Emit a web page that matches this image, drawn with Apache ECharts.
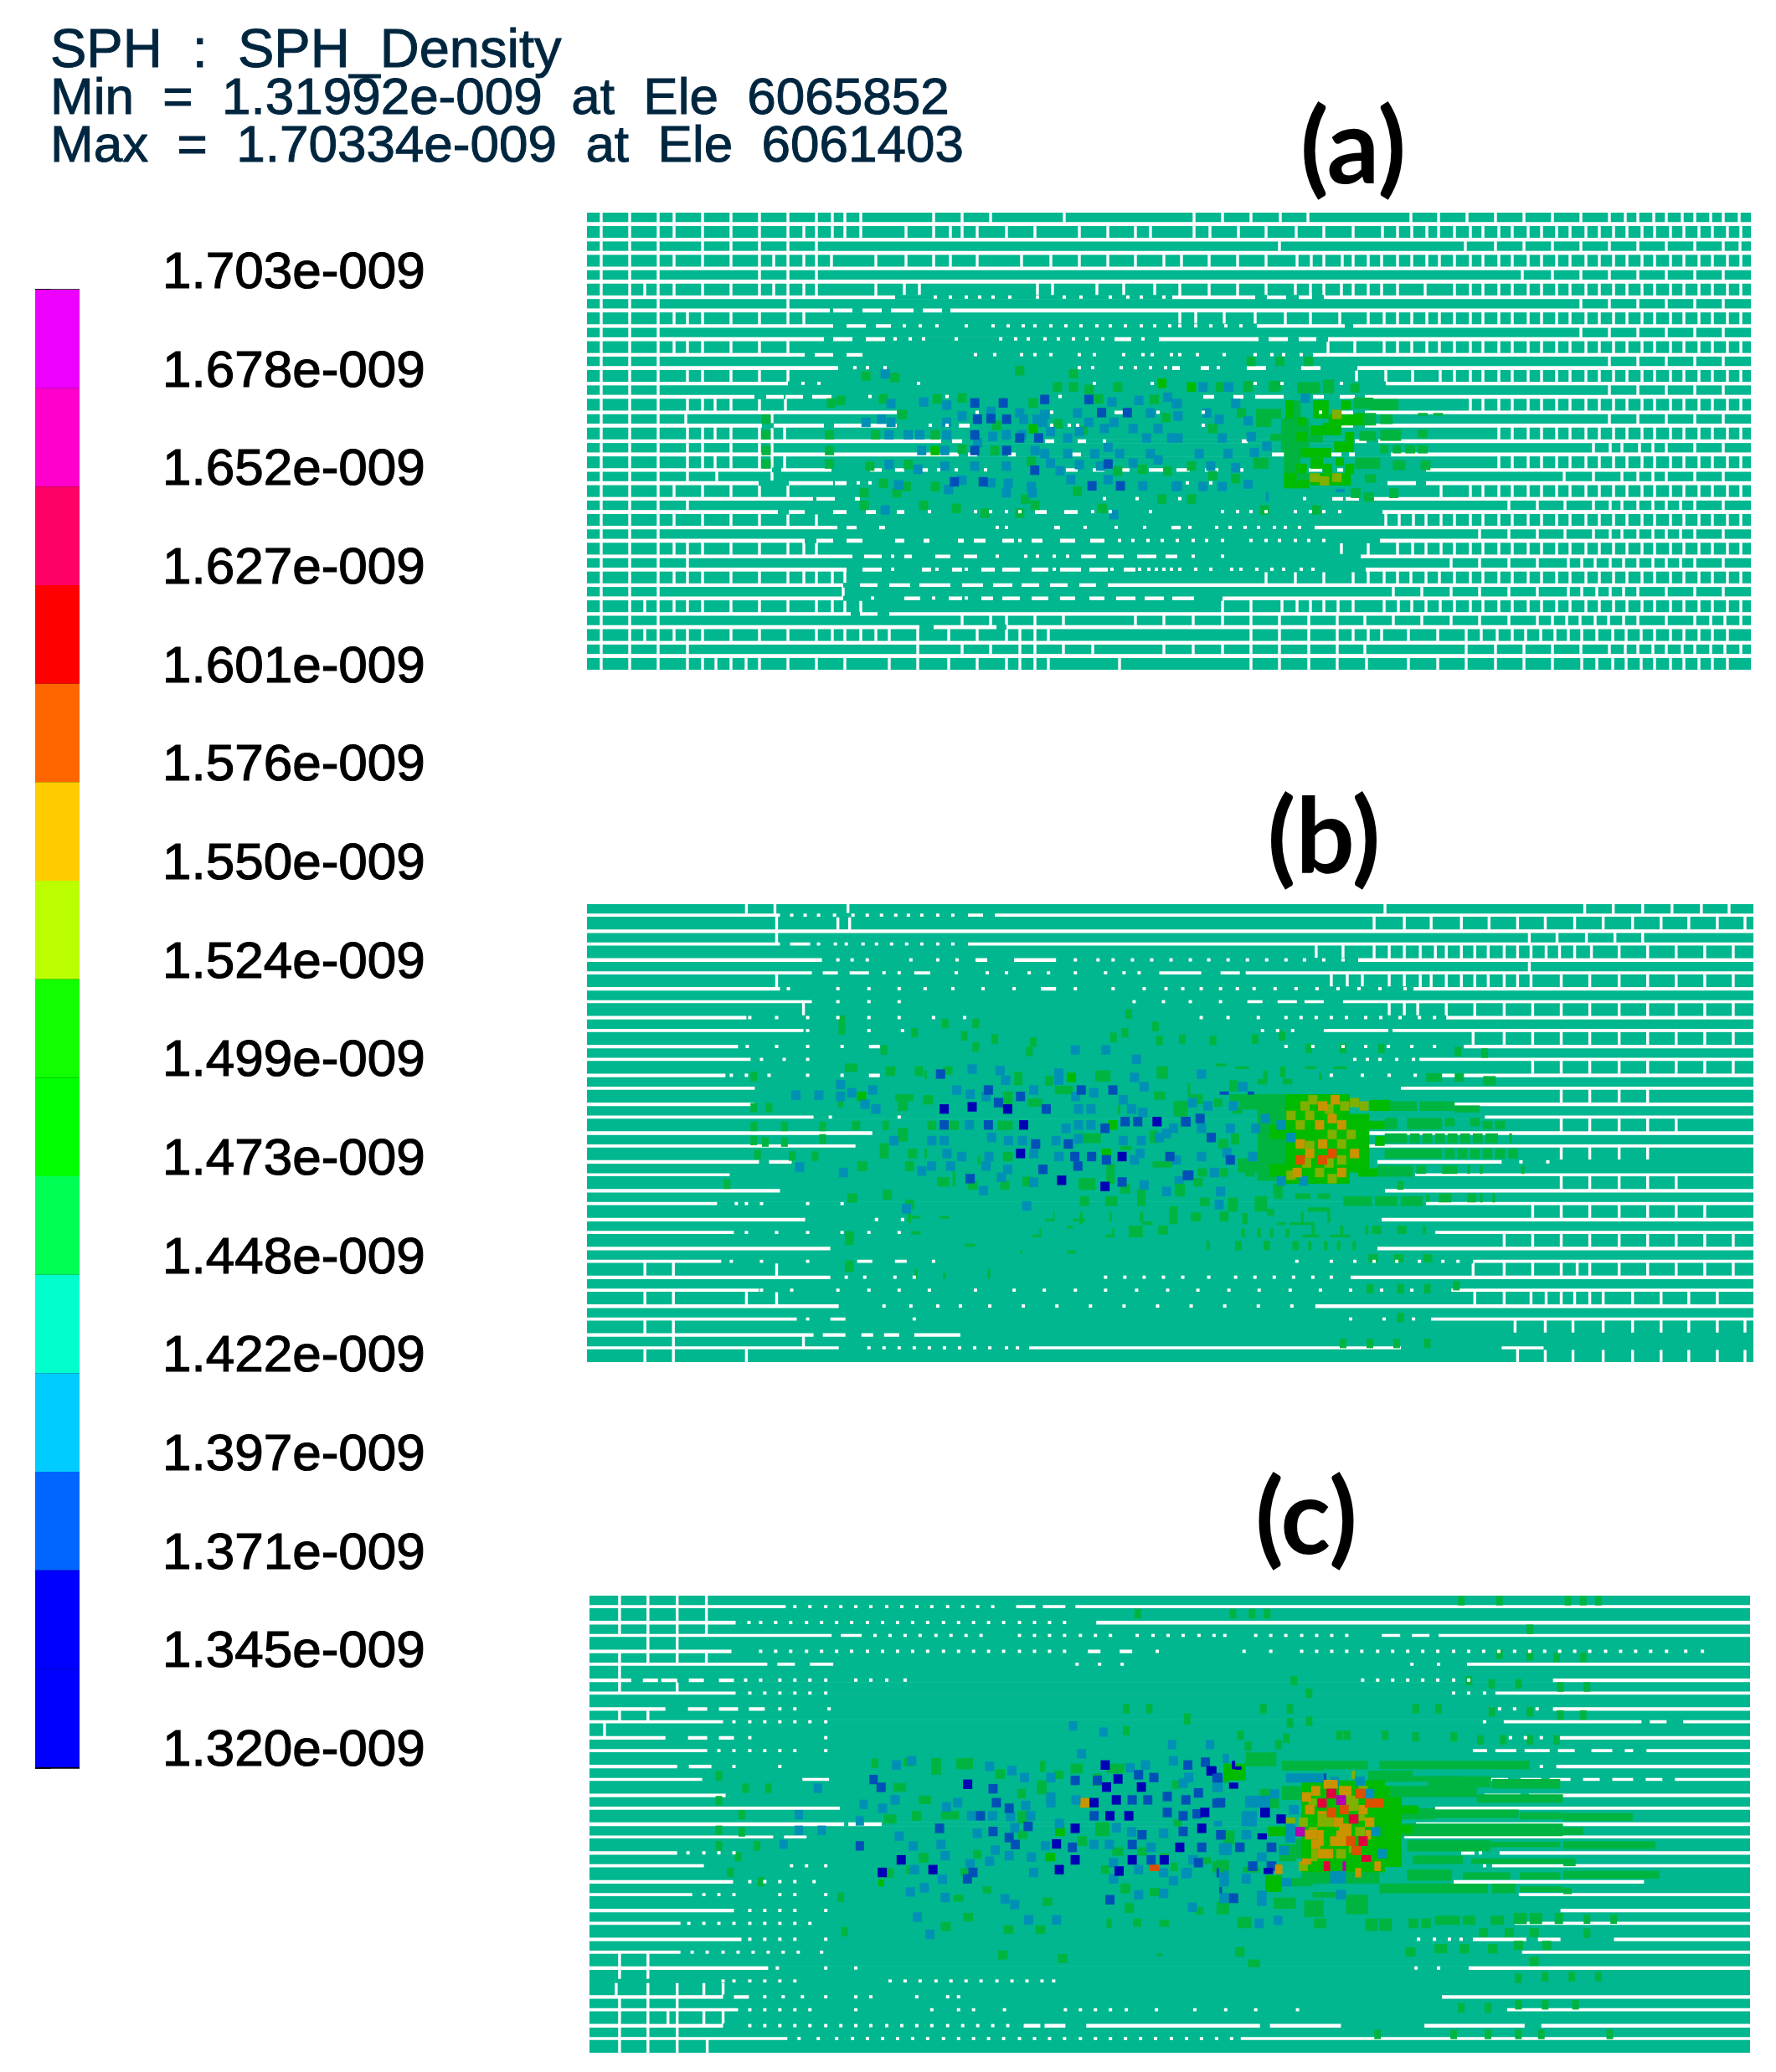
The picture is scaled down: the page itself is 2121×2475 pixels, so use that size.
<!DOCTYPE html>
<html>
<head>
<meta charset="utf-8">
<style>html,body{margin:0;background:#fff}#chart{width:2121px;height:2475px}</style>
<script src="https://cdn.jsdelivr.net/npm/echarts@6/dist/echarts.min.js"></script>
</head>
<body>
<div id="chart"></div>
<script>
// legend, top to bottom
const tickLabels = ['1.703e-009','1.678e-009','1.652e-009','1.627e-009','1.601e-009','1.576e-009','1.550e-009','1.524e-009','1.499e-009','1.473e-009','1.448e-009','1.422e-009','1.397e-009','1.371e-009','1.345e-009','1.320e-009'];
const bandColors = ['#ee00ff','#ff00cc','#ff0066','#ff0000','#ff6600','#ffcc00','#bbff00','#11ff00','#00ff00','#00ff55','#00ffcc','#00ccff','#0066ff','#0000ff','#0000ff'];
const headerLines = ['SPH  :  SPH_Density','Min  =  1.31992e-009  at  Ele  6065852','Max  =  1.70334e-009  at  Ele  6061403'];

// density classes shown on the particles (index used in the spot lists)
const palette = ['#00b78f','#00b440','#00bb00','#80b000','#c89400','#dd5000','#e0003c','#b400b0','#0090b5','#0050b8','#0000b4','#ffffff'];

const rightOddA = [1036,1055,1070,1089,1105,1124,1140,1158,1174,1193,1209,1226,1242,1260,1275,1294,1310,1328,1344,1362,1378];
const rightEvenA = [1187,1221,1255,1289,1323,1357];

// panel a: white vertical joints per particle row
const gapsA = [
  [17,51,85,104,138,172,206,240,274,293,308,327,414,448,482,570,725,759,793,828,861,984,1017,1051,1085,1119,1153,1187,1221,1240,1255,1274,1289,1308,1323,1342,1357,1376],
  [17,51,85,104,138,172,206,240,259,274,293,308,327,381,414,434,448,466,501,535,588,622,655,673,725,744,778,811,847,880,915,950,968,985,1003,1017,...rightOddA],
  [17,51,85,138,172,206,240,274,827,1049,1085,1119,1153,...rightEvenA,1377],
  [17,51,85,104,138,172,206,223,240,259,274,292,345,381,414,434,466,519,554,588,622,655,689,710,743,777,811,848,865,880,902,915,933,949,968,985,1003,1018,...rightOddA],
  [17,51,85,206,240,274,1117,1153,...rightEvenA],
  [17,51,69,85,104,138,172,206,223,240,259,274,345,379,397,538,556,609,641,678,708,743,777,811,846,864,880,901,915,933,949,968,1001,...rightOddA],
  [17,51,85,240,...rightEvenA],
  [17,51,85,104,120,138,172,206,240,259,708,727,761,798,834,864,899,933,952,968,985,1003,1018,...rightOddA],
  [17,51,85,...rightEvenA],
  [17,51,85,104,120,138,172,206,240,885,917,952,968,985,1003,1018,...rightOddA],
  [17,51,85,1221,1255,1289,1323,1357],
  [17,51,85,120,138,172,206,240,919,954,986,1019,...rightOddA],
  [17,51,85,1221,1255,1289,1323,1357],
  [17,51,85,120,138,153,172,206,237,...rightOddA.slice(1)],
  [17,51,85,118,221,1221,1255,1289,1323,1357],
  [17,51,85,120,138,153,172,206,221,236,...rightOddA.slice(3)],
  [17,51,85,120,138,172,206,221,1202,1222,1236,1257,1273,1289,1323,1357],
  [17,51,85,120,138,153,172,206,221,236,...rightOddA.slice(3)],
  [17,51,85,120,155,221,1167,1202,1236,1255,1273,1289,1323,1357],
  [17,51,85,104,138,172,206,240,1020,...rightOddA.slice(1)],
  [17,51,85,120,1101,1135,1168,1202,1222,1236,1255,1273,1289,1306,1323,1357],
  [17,51,85,104,138,172,206,240,274,954,970,987,1002,1020,...rightOddA],
  [17,51,85,1066,1101,1135,1168,1202,1222,1236,1255,1273,1289,1306,1323,1357],
  [17,51,85,104,120,138,172,206,240,259,274,901,933,968,986,1002,1020,...rightOddA],
  [17,51,85,120,1032,1066,1101,1135,1172,1188,1204,1222,1238,1255,1273,1289,1306,1323,1357],
  [17,51,85,104,120,138,172,206,240,259,274,293,308,811,846,880,915,933,952,968,984,1002,1018,...rightOddA],
  [17,51,85,306,963,997,1032,1066,1101,1135,1172,1188,1206,1222,1238,1255,1289,1323,1357],
  [17,51,69,85,104,120,138,172,206,240,274,293,308,327,759,793,830,848,864,880,897,915,952,969,985,1002,1019,...rightOddA],
  [17,51,85,448,482,501,535,569,655,689,724,759,793,827,862,896,929,963,997,1032,1066,1101,1135,1153,1170,1186,1204,1220,1238,1255,1289,1323,1342,1359,1378],
  [17,51,69,85,104,120,138,172,206,240,274,293,308,327,345,361,395,432,466,501,517,535,551,793,827,862,896,915,933,949,981,1016,1050,1068,1087,1105,1121,1139,1156,1172,1188,1206,1225,1241,1259,1275,1294,1310,1328,1344,1362],
  [17,51,85,120,395,448,482,517,535,569,604,689,724,759,793,827,862,896,929,1050,1085,1119,1153,1187,1221,1240,1255,1273,1289,1308,1323,1342,1359,1378],
  [17,51,85,120,138,154,172,190,206,240,274,308,361,395,432,466,501,517,535,551,636,793,827,862,896,931,981,1016,1050,1085,1119,1153,1188,1206,1225,1241,1259,1275,1294,1310,1328,1344,1362]
];

// panel a: white between rows, [from,to] is a run and a single number a small hole
const slitsA = [
  [[0,1390]],[[0,1390]],[[0,1390]],[[0,1390]],[[0,1390]],
  [[0,368],416,434,453,469,485,505,538,570,590,625,646,662,689,[699,798],[812,835],[850,866],[880,1390]],
  [[0,290],[294,317],[329,352],[363,390],[401,424],[434,1390]],
  [[0,294],[310,333],[345,363],379,398,418,453,485,503,521,535,554,572,590,609,625,643,662,678,696,708,727,745,763,781,[800,905],[915,1390]],
  [[0,283],[294,317],[333,356],368,386,402,441,494,512,527,547,563,581,597,616,[630,650],664,[683,802],[814,837],[850,871],[885,1390]],
  [[0,260],[272,294],[310,329],464,487,519,535,554,588,606,641,664,675,698,708,729,761,798,818,832,853,[867,1390]],
  [[0,300],320,335,356,588,604,638,655,673,691,[699,708],[733,743],754,[788,811],[853,876],[920,1390]],
  [[0,240],258,277,396,606,675,798,830,901,[954,1390]],
  [[0,200],[214,235],[237,258],[269,292],338,430,565,[736,749],[772,784],[798,832],[867,880],[899,917],[929,970],[970,1390]],
  [[0,370],466,555,[630,641],682,736,876,[901,915],[929,1390]],
  [[0,209],[223,283],[295,370],410,430,[444,457],555,576,586,736,[901,915],[929,1390]],
  [[0,423],[436,448],[547,558],[586,596],618,[782,789],[917,931],[945,1390]],
  [[0,444],[455,466],[503,512],[579,590],[818,833],[889,901],[910,917],[960,1390]],
  [[0,221],[232,292],[338,352],[368,379],[393,407],420,441,476,[572,586],[604,618],[639,648],[671,689],[704,720],[738,754],[772,784],[862,878],[896,903],[1002,1390]],
  [[0,205],[241,294],[296,310],324,338,717,745,[956,990],[1002,1390]],
  [[0,270],[274,296],[320,326],618,657,708,857,[890,903],[906,922],[940,1390]],
  [[0,228],[241,260],[294,310],[333,345],[370,379],409,464,482,501,517,[535,549],[570,586],604,625,673,759,777,793,811,846,864,880,899,[950,1390]],
  [[0,299],[310,322],[349,356],490,501,[558,565],595,632,666,[698,709],720,752,768,786,802,821,834,851,[869,1390]],
  [[0,260],[274,294],[310,329],[368,379],[402,409],[443,450],[462,476],[496,510],517,[531,544],[565,583],[601,618],636,652,670,687,705,724,740,759,793,811,827,846,862,880,[947,1390]],
  [[0,317],[331,352],365,[379,388],[416,434],[450,466],490,524,538,558,574,[590,608],[622,641],[657,680],[691,705],724,759,[924,1390]],
  [[0,310],[329,352],365,[400,411],418,[436,448],453,[471,487],[496,517],[531,551],558,[565,590],[600,622],627,[641,655],660,671,680,689,698,708,727,745,770,781,800,818,832,853,867,[930,1390]],
  [[0,306],[326,347],[361,386],[397,434],[448,473],[485,508],[519,540],[553,574],[588,608],[622,1390]],
  [[0,306],341,[379,398],414,[432,448],453,[471,485],[496,517],[531,551],[565,583],[600,618],[632,655],[666,689],[699,725],[759,1390]],
  [[0,315],[326,347],[361,1390]],
  [[0,397],[414,489],[501,1390]],
  [[0,1390]],[[0,1390]]
];

// panel a spots, [x, y]
const aLeftLight = [[815,650],[900,645],[960,655],[750,710],[790,700],[815,710],[960,710],[1000,690],[1075,675],[1150,680],[1215,685],[1160,700],[1195,700],[1210,710],[1300,680],[1330,710],[1395,710],[1490,680],[1560,650],[1535,630],[1390,645],[1460,640],[810,750],[860,750],[890,750],[960,750],[1080,755],[1115,750],[1155,750],[1230,740],[1275,760],[1305,740],[1370,730],[1445,730],[1510,730],[1480,760],[1545,760],[895,800],[955,800],[1040,775],[1190,800],[1215,810],[1275,810],[1345,810],[1380,790],[1410,810],[1490,810],[1510,830],[810,845],[885,860],[955,850],[1033,850],[1115,850],[1230,840],[1255,865],[1305,845],[1360,850],[1445,840],[835,910],[1000,895],[1075,903],[1120,905],[1180,915],[1283,893],[1380,893],[1470,913],[1560,913],[965,925],[1115,935],[1183,935],[800,990],[1395,1005],[800,555]];
const aLeftBlue = [[1033,648],[1107,648],[1215,637],[1330,637],[1363,679],[1430,679],[1040,700],[1075,698],[1116,700],[1033,750],[1199,760],[1150,760],[1033,800],[1116,800],[1380,843],[1189,863],[1338,913],[1412,913],[980,900],[1055,900]];
const aLeftGreen = [[750,562],[825,567],[1150,545],[1290,555],[1248,597],[1290,597],[1330,605],[1405,597],[660,648],[685,640],[795,635],[935,635],[1000,632],[1185,648],[1355,635],[1500,637],[845,685],[1090,720],[1250,715],[1315,735],[1530,695],[490,700],[490,750],[490,800],[490,843],[655,750],[655,800],[655,843],[775,750],[760,850],[860,845],[930,750],[1085,800],[1000,795],[1180,835],[1405,865],[1470,860],[1535,865],[795,905],[855,915],[930,915],[745,935],[830,935],[1300,930],[1520,955],[745,975],[900,975],[985,985],[1165,955],[1365,985],[1190,975],[1150,1000],[1060,1000]];
const aLeftBright = [[1520,585],[1185,730],[930,800]];
const aRightLight = [[10,650],[15,690],[15,760],[90,680],[122,700],[165,650],[130,760],[70,810],[145,810],[165,855],[100,850],[10,915],[80,915],[130,915],[80,597],[147,597]];
const aRightGreen = [[205,515],[280,515],[355,515],[125,597],[197,597],[265,597],[340,597],[370,597],[405,597],[475,600],[105,730],[180,680],[50,850],[105,880],[165,890],[50,955],[240,990],[375,990]];
const aRightBright = [[50,597]];
// hot area of panel a, [x0, y0, x1, y1, class] on the 3x crop
const aHot = [[165,115,220,180,1],[150,180,250,300,1],[160,300,220,375,1],[265,115,320,150,1],[250,240,300,265,1],[300,40,340,90,1],[208,50,290,90,1],[105,45,150,80,1],[15,45,48,80,1],[60,145,150,180,1],[60,170,115,210,1],[110,235,150,260,1],[50,320,105,360,1],[470,110,570,150,1],[445,160,490,205,1],[410,105,480,145,1],[430,225,490,260,1],[505,165,550,200,1],[505,220,580,260,1],[640,220,675,250,1],[505,275,535,305,1],[550,275,580,305,1],[595,275,630,305,1],[640,275,675,305,1],[415,320,505,360,1],[550,330,595,365,1],[650,330,685,365,1],[450,380,490,410,1],[400,430,435,465,1],[445,445,480,478,1],[537,430,570,465,1],[165,375,250,430,1],[640,160,675,170,1],[695,160,730,170,1],
  [165,115,195,180,2],[265,115,320,180,2],[320,165,445,205,2],[255,205,300,240,2],[300,195,365,240,2],[378,228,412,262,2],[205,228,242,262,2],[340,262,410,300,2],[220,285,330,320,2],[255,320,300,360,2],[345,320,375,350,2],[378,342,412,378,2],[205,342,242,375,2],[160,375,205,430,2],[205,400,250,430,2],[300,342,333,378,2],[365,115,400,148,2],[415,160,445,190,2],[255,375,400,420,2],[210,175,240,205,2],
  [220,90,253,124,8],[15,172,48,205,8],[26,228,60,262,8],[82,262,116,296,8],[37,285,71,318,8],[15,400,48,432,8],[345,432,378,444,8],[95,445,105,478,8],
  [333,148,367,182,3],[253,376,288,408,3],[288,387,322,420,3],[333,376,367,408,3]];

// panel b
const gapsB = [
  [190,224,311,951,1189,1223,1258,1293,1328,1361],
  [226,299,313,938,974,1006,1042,1075,1109,1142,1177,1211,1246,1280,1313,1347,1380],
  [226,1123,1156,1191,1225,1258],
  [869,901,938,956,974,993,1011,1024,1042,1058,1074,1093,1109,1125,1143,1159,1177,1197,1230,1264,1298,1332,1366],
  [1123],
  [226,887,906,924,956,974,993,1006,1024,1042,1058,1074,1093,1109,1125,1161,1195,1230,1264,1298,1332,1366],
  [],
  [258,956,974,990,1024,1058,1093,1127,1161,1195,1230,1264,1298,1332,1366],
  [],
  [1056,1093,1127,1161,1195,1230,1264,1298,1332,1366],
  [],
  [1127,1161,1195,1230,1264,1298,1332,1366],
  [],
  [1161,1195,1230,1264],
  [],
  [1161,1195,1230,1264,1298],
  [],
  [1161,1195,1230,1264],
  [],
  [1161,1195,1230,1264,1298],
  [],
  [1127,1161,1195,1230,1264,1298,1332],
  [],
  [1093,1127,1161,1195,1230,1264,1298,1332,1366],
  [],
  [69,103,226,1056,1093,1127,1161,1180,1195,1230,1264,1298,1332,1366],
  [],
  [69,103,190,226,1058,1093,1125,1143,1161,1177,1195,1211,1246,1280,1313,1347],
  [],
  [69,103,1106,1142,1175,1211,1246,1280,1313,1347,1380],
  [103,258],
  [69,103,190,1109,1142,1175,1211,1246,1280,1313,1347,1380]
];
const slitsB = [
  [[0,230],244,260,276,295,317,334,351,368,383,399,418,436,[454,472],[486,1390]],
  [[0,1390]],
  [[0,230],[242,266],276,296,309,329,345,363,381,399,418,436,[454,1390]],
  [[0,280],299,316,334,386,418,441,[463,477],[509,559],582,609,627,650,673,696,719,741,764,787,810,833,855,878,901,[919,1390]],
  [[0,268],[281,299],[313,336],354,372,[390,409],440,477,500,527,550,582,618,640,658,[682,732],[755,778],[785,1390]],
  [[0,230],240,299,336,372,403,436,472,509,[541,559],582,627,664,690,710,732,755,775,795,820,845,870,895,920,945,975,[985,1390]],
  [[0,268],299,336,372,652,687,719,755,[787,805],[823,846],[855,878],[901,1390]],
  [[0,190],194,226,263,299,336,372,413,450,732,764,800,833,851,869,887,905,928,946,969,992,1010,[1024,1390]],
  [[0,258],263,336,376,805,823,841,[878,955],[960,1390]],
  [[0,180],191,226,263,304,[336,349],833,865,901,928,955,983,1010,[1045,1390]],
  [[0,195],208,235,263,915,930,945,965,985,[992,1390]],
  [[0,165],172,190,217,263,304,[336,349],887,924,956,987,[1010,1390]],
  [[0,200],[970,1390]],
  [[0,200],[1033,1390]],
  [[0,270],290,372,[1070,1390]],
  [[0,340],[921,1390]],
  [[0,320],[928,1390]],
  [[0,205],[217,244],[942,1090],1113,1145],
  [[0,170],[987,1390]],
  [[0,230],[951,1390]],
  [[0,155],178,190,208,263,304,[1000,1390]],
  [[0,260],345,376,[947,1390]],
  [[0,175],190,226,263,304,336,372,[1011,1390]],
  [[0,290],[942,1390]],
  [[0,160],172,208,263,[322,340],[367,381],413,846,887,915,938,965,992,1020,1038,[1056,1390]],
  [[0,290],309,331,367,390,618,641,664,687,710,741,773,796,819,842,865,887,[910,1390]],
  [[0,205],208,244,299,336,372,408,463,509,545,582,618,655,692,728,765,801,838,874,910,947,983,[1030,1390]],
  [[0,300],354,386,418,445,480,520,560,600,640,680,720,760,800,840,[868,1390]],
  [[0,250],263,[290,308],390,910,950,985,[1006,1390]],
  [[0,270],[281,308],[327,341],[354,372],[390,445]],
  [[0,300],336,354,372,390,408,426,444,462,480,500,513,[527,970],[1090,1140]]
];
// outside the 3x crops, read on the wide crop
const bWideLight = [[285,640],[315,640],[290,870],[650,495],[690,495],[730,525]];
const bWideGreen = [[230,580],[230,680],[250,680],[230,740],[270,740],[320,740],[230,785],[245,790],[270,790],[320,780],[235,830],[280,835],[310,835],[195,925],[590,500],[1150,500],[1185,505],[1035,1260],[1075,1260],[1110,1260],[1148,1250],[1075,1352],[1000,1435],[1035,1435],[1070,1435],[1110,1435],[345,400],[480,410],[520,410],[440,440],[505,450],[545,460],[595,470],[715,440],[755,420],[790,460],[345,430],[400,495],[520,485],[720,380],[700,455],[760,465],[830,465],[885,460],[920,450],[955,490],[1000,490],[1050,490]];
// b, hot side, on the 3x crop
const bHot = [[300,110,400,420,1],[775,135,870,170,1],[880,135,1005,170,1],[1005,150,1095,175,1],[755,195,800,235,1],[835,195,960,235,1],[970,195,1005,225,1],[1060,195,1095,225,1],[1105,205,1140,235,1],[1150,205,1185,235,1],[755,250,835,285,1],[845,250,880,285,1],[890,250,925,285,1],[935,250,970,285,1],[980,250,1015,285,1],[1025,250,1060,285,1],[1070,250,1105,285,1],[1115,250,1160,285,1],[1200,250,1210,285,1],[755,305,960,340,1],[970,305,1005,340,1],[1015,305,1050,340,1],[1060,305,1095,340,1],[1105,305,1140,340,1],[1150,305,1185,340,1],[1197,305,1232,340,1],[730,365,855,405,1],[868,365,903,395,1],[960,365,1015,395,1],[1050,365,1060,395,1],[1095,365,1105,395,1],[1243,365,1255,395,1],[607,475,710,510,1],[720,475,800,510,1],[812,475,890,510,1],[903,470,915,495,1],[948,465,993,497,1],[1050,465,1083,497,1],[1095,465,1105,497,1],[1140,465,1150,497,1],[903,35,960,65,1],[1005,35,1038,65,1],[1107,45,1152,78,1],[800,420,822,452,1],[710,580,743,610,1],[800,580,833,610,1],[890,580,903,610,1],[697,682,730,712,1],[788,682,822,712,1],[892,682,925,712,1],[118,635,130,668,1],[220,635,243,668,1],[322,635,345,668,1],[425,635,447,668,1],[482,635,493,668,1],[538,635,550,668,1],[584,635,596,668,1],[640,635,652,668,1],[243,590,255,622,1],[300,590,312,622,1],[345,590,357,622,1],[402,590,414,622,1],[493,580,505,615,1],[595,580,607,612,1],[685,580,697,612,1],[460,612,520,622,1],[560,612,630,622,1],[145,125,175,155,1],[200,60,230,100,1],[300,55,335,75,1],[390,55,425,75,1],[220,10,270,20,1],[150,0,190,10,1],[320,25,335,70,1],[380,10,400,50,1],[520,35,530,60,1],[470,10,510,20,1],[570,10,620,20,1],[60,110,105,145,1],[0,135,45,185,1],[200,110,345,135,1],[235,135,310,165,1],[310,135,400,175,1],[210,155,245,180,1],[160,270,195,305,1],[165,375,195,405,1],[255,375,290,405,1],[85,375,120,405,1],[70,410,105,440,1],[310,240,345,300,1],[230,340,345,390,1],[355,430,390,465,1],[205,250,235,290,1],[5,430,40,475,1],[95,480,130,510,1],[195,480,230,530,1],[290,475,335,530,1],[62,533,97,565,1],[165,530,197,565,1],[435,465,490,485,1],[515,465,560,485,1],[360,465,390,485,1],[455,530,465,570,1],[245,535,265,575,1],[335,520,360,545,1],[480,515,560,530,1],[550,530,560,570,1],[370,568,400,578,1],[415,568,505,578,1],
  [400,110,630,430,2],[630,180,700,390,2],[345,220,400,270,2],[345,360,400,405,2],[700,130,775,170,2],[700,205,755,235,2],[660,375,730,405,2],[720,260,755,295,2],
  [165,100,198,112,9],[265,100,288,112,9]];
const bHotLight = [[100,38],[248,83],[67,140],[123,152],[214,152],[328,197],[385,220],[100,232],[203,232],[294,232],[100,333],[191,320],[283,333],[420,265],[146,390],[168,458],[163,505],[385,420],[465,420]];
const bHotBlue = [[45,208],[95,197],[135,265],[203,345],[55,400]];
const bAmber = [[578,130],[533,152],[567,197],[522,220],[601,220],[453,288],[533,288],[487,322],[442,390],[601,390],[647,322]];
const bOlive = [[498,130],[470,152],[647,140],[681,152],[612,152],[556,163],[420,186],[487,186],[453,220],[567,254],[635,254],[487,294],[601,288],[601,345],[476,356],[556,356],[420,400],[522,390],[567,412]];
const bOrange = [[453,345],[533,345],[567,322]];
// b, middle, on the 3x crop
const bMidDark = [[380,163],[607,163],[664,220],[653,322],[1016,333],[1141,208],[800,418],[955,440],[480,155]];
const bMidBlue = [[538,95],[653,118],[870,95],[983,95],[574,140],[745,163],[380,220],[538,220],[1027,208],[1072,208],[1243,208],[955,232],[824,288],[847,333],[907,333],[858,367],[960,345],[1187,333],[733,379],[1249,400],[707,288],[367,38],[473,412],[1016,424]];
const bMidLight = [[125,95],[50,105],[10,75],[10,118],[97,146],[136,163],[425,95],[473,110],[530,118],[600,60],[700,95],[1095,83],[1060,50],[790,60],[915,105],[850,118],[860,163],[905,163],[1020,130],[1050,163],[1090,175],[200,276],[336,276],[380,276],[780,276],[816,232],[860,220],[905,220],[470,220],[550,265],[610,276],[660,276],[1020,276],[1085,276],[1175,250],[1200,232],[390,322],[443,333],[540,333],[700,322],[790,333],[530,367],[607,379],[403,367],[300,385],[20,390],[335,367],[585,407],[700,425],[520,455],[1095,435],[1175,458],[1220,420],[1210,345],[1080,322],[1060,345],[1150,265],[675,510],[245,520],[860,270],[480,20],[580,25],[790,35]];
const bMidBright = [[85,118],[960,322],[983,220],[835,50]];
const bMidPatches = [[170,10,205,45,1],[275,10,305,45,1],[375,10,410,40,1],[205,110,270,135,1],[305,113,340,147,1],[0,135,20,157,1],[215,135,250,170,1],[320,205,352,238,1],[400,205,432,238,1],[215,230,250,280,1],[150,285,182,340,1],[250,305,284,340,1],[240,350,273,385,1],[70,350,105,385,1],[355,407,398,440,1],[465,420,500,452,1],[580,420,613,452,1],[660,405,695,440,1],[160,452,193,487,1],[35,465,70,498,1],[240,487,273,522,1],[865,475,898,510,1],[955,475,1000,510,1],[1145,580,1180,612,1],[1040,580,1090,622,1],[590,316,625,350,1],[590,100,625,150,1],[630,30,660,78,1],[920,25,975,65,1],[1000,150,1010,180,1],[1140,10,1180,55,1],[1205,135,1250,190,1],[1250,70,1260,120,1],[1130,100,1170,130,1],[740,45,770,80,1],[775,80,840,110,1],[680,125,730,155,1],[570,205,625,238,1],[1115,240,1145,285,1],[860,250,940,285,1],[960,360,990,430,1],[860,410,920,452,1],[1010,430,1045,465,1],[1070,450,1100,510,1],[1125,350,1195,372,1],[1205,430,1240,475,1],[1010,295,1050,310,1],[25,600,57,650,1],[25,705,57,745,1],[25,0,70,30,1],[310,25,318,55,1],[160,205,182,238,1],[50,205,80,238,1],[310,305,318,340,1],[500,330,510,360,1],[410,385,420,440,1],[250,530,262,570,1],[265,545,295,555,1],[365,545,398,555,1],[770,530,775,565,1],[740,555,770,565,1],[865,530,875,575,1],[840,555,885,565,1],[970,530,980,565,1],[1080,530,1092,570,1],[1090,565,1125,578,1],[1185,510,1215,575,1],[720,590,728,620,1],[695,612,728,622,1],[980,590,988,622,1],[955,612,988,622,1],[820,580,840,590,1],[262,600,296,612,1],[455,645,490,656,1],[820,668,850,680,1],[650,670,660,680,1],[535,735,545,770,1],[275,735,285,770,1],[375,748,387,770,1]];

// panel c
const gapsC = [
  [36,70,105,140],[36,70,105,140],[36,70,105,140],[70,105],[36,70,105,140],[36],[36,105],[],
  [36,70],[18],[],[],[],[],[],[],[],[],[],[],[],[],[],[],[],
  [36,70],[36,70],[32,70,105,137,160],[36,70,105],[36,70,94,105,137,160],[36,70,105],[36,70,105,141]
];
const slitsC = [
  [[0,235],246,264,283,301,319,337,356,374,392,410,429,447,465,483,[511,534],[543,570],[582,1390]],
  [[0,175],191,205,223,241,260,278,296,314,333,351,369,387,405,424,442,460,478,496,515,533,551,569,[607,1390]],
  [[0,290],[301,326],342,360,378,396,415,433,451,469,515,533,551,569,588,606,624,656,675,693,711,730,748,761,798,816,834,853,871,889,907,[949,971],[985,1006],[1017,1390]],
  [[0,170],205,223,241,260,278,296,314,333,351,369,387,405,424,442,460,478,496,515,533,551,569,[597,612],[635,650],680,784,816,853,871,889,907,925,944,962,980,998,1016,1035,1053,1071,1089,1108,1126,1144,1162,1180,1198,1217,1235,1253,1271,1290,1313,1333],
  [[0,213],[225,246],[264,292],584,611,638,985,1017,[1051,1390]],
  [[0,50],[64,82],[86,105],[119,137],[155,173],187,205,228,246,264,283,319,337,356,378,926,944,962,980,998,1016,1035,1053,[1154,1390]],
  [[0,175],192,210,228,246,264,283,1035,1053,1072,[1085,1390]],
  [[0,91],[118,141],[155,178],[191,210],228,246,287,1090,1108,1135,[1154,1390]],
  [[0,160],173,192,210,228,246,264,283,1072,[1095,1260],[1270,1290],[1310,1390]],
  [[0,91],[118,141],[155,173],192,283,1103,1121,1140,[1158,1390]],
  [[0,141],155,173,192,210,228,246,283,[1058,1075],[1085,1110],[1120,1150],[1160,1180],[1200,1225],[1240,1250],[1266,1390]],
  [[0,105],[119,146],173,228,[1099,1117],1140,[1158,1390]],
  [[0,135],[255,287],[1044,1060],[1080,1100],[1115,1140],[1150,1175],[1190,1210],[1225,1250],[1265,1285],[1300,1390]],
  [[0,163],[1072,1115],[1125,1390]],
  [[0,300],[1013,1390]],
  [[0,305],[310,350],[990,1390]],
  [[0,220],[233,260],[976,1390]],
  [[0,105],118,137,155,173,[1044,1060],1067,[1090,1390]],
  [[0,137],242,260,283,1072,[1081,1390]],
  [[0,172],192,210,228,246,269,[1035,1263]],
  [[0,123],137,155,173,228,246,283,[1113,1390]],
  [[0,173],192,210,228,246,283,[1163,1390]],
  [[0,109],119,137,155,173,192,210,228,246,264,[1108,1390]],
  [[0,182],192,210,228,246,283,993,1012,1030,1044,[1058,1122],[1136,1163],[1227,1390]],
  [[0,109],123,141,160,178,196,214,232,250,278,[1117,1390]],
  [[0,214],225,283,319,990,1017,[1053,1390]],
  [160,173,192,210,228,246,360,378,396,415,433,451,469,488,506,524,542,556],
  [[0,160],[173,191],210,232,255,283,319,337,392,429,442,[1021,1390]],
  [[0,178],192,210,228,246,264,319,410,442,460,497,570,588,606,624,643,679,725,762,798,848,[1099,1390]],
  [[0,160],192,210,228,246,264,283,301,319,337,356,374,392,410,429,447,465,483,501,[520,540],[545,570],[595,803],[815,900],[1000,1120],[1140,1390]],
  [[0,237],251,274,296,315,333,351,369,387,405,424,442,460,478,496,515,533,551,569,588,606,624,642,660,678,697,715,733,751,769,[780,1390]]
];
const cWideLight = [[315,660],[375,712],[290,795],[320,795],[290,745],[270,840],[370,765],[780,520],[830,520],[650,460],[690,480]];
const cWideBlue = [[388,632],[370,845]];
const cWideGreen = [[185,620],[220,660],[250,660],[185,700],[215,745],[185,795],[215,800],[185,845],[235,845],[210,880],[200,930],[240,960],[345,1010],[350,1120],[390,580],[1325,1080],[1360,1080],[1325,1125],[1235,1270],[1270,1265],[1305,1265],[1340,1265],[1160,1365],[1195,1365],[1235,1355],[1270,1355],[1310,1355],[1150,1450],[1195,1450],[1235,1450],[1265,1450],[1355,1450],[1050,1450],[940,315],[960,355],[720,405],[750,405],[900,405],[935,405],[1100,405],[1130,405],[1200,415],[1250,415],[1290,425],[1320,425],[800,435],[935,450],[960,445],[1000,490],[1060,490],[1100,495],[1170,315],[1200,325],[1235,325],[1290,335],[1325,335],[1210,230],[1250,235],[1285,240],[1320,240],[1250,150],[735,100],[860,100],[885,100],[905,100],[1210,58],[1300,58],[1320,58],[1340,58],[1160,58],[930,500],[870,490],[920,520],[880,525],[800,440],[720,475],[1010,490],[1150,495],[1185,505],[1215,505],[1250,505],[1285,505]];
const cWidePatches = [[1294,740,1385,765,1],[1294,830,1415,855,1],[1294,925,1420,950,1],[1294,885,1310,910,1],[1294,785,1320,810,1],[1294,980,1305,1000,1]];
// c, hot side, on the 3x crop
const cHot = [[120,10,230,60,1],[250,40,400,75,1],[390,40,560,70,1],[600,40,1140,70,1],[560,75,720,115,1],[720,95,890,115,1],[775,95,1000,135,1],[1005,105,1250,140,1],[640,130,950,170,1],[950,160,1260,190,1],[620,210,800,250,1],[800,215,1100,245,1],[1105,225,1260,250,1],[680,265,1260,310,1],[700,325,1000,365,1],[1000,330,1250,350,1],[720,380,900,410,1],[930,390,1260,410,1],[700,430,860,470,1],[900,440,1070,465,1],[1105,440,1250,465,1],[600,480,990,515,1],[1005,480,1090,515,1],[1105,490,1260,510,1],[800,595,890,628,1],[900,595,945,628,1],[1000,595,1048,628,1],[1083,585,1130,625,1],[1140,585,1185,625,1],[1230,585,1260,625,1],[600,605,645,650,1],[550,605,595,650,1],[705,605,740,640,1],[752,605,785,640,1],[365,605,410,640,1],[958,640,990,672,1],[1050,640,1083,672,1],[1140,640,1173,672,1],[798,697,843,730,1],[888,697,922,730,1],[990,697,1025,730,1],[1083,685,1117,718,1],[1185,685,1218,718,1],[82,708,116,742,1],[695,708,730,742,1],[1140,742,1173,775,1],[128,752,172,780,1],
  [170,140,210,175,1],[205,175,240,210,1],[300,320,340,390,1],[240,340,300,400,1],[220,530,300,570,1],[330,540,400,600,1],[480,520,560,590,1],[40,290,80,340,1],[0,400,40,440,1],[110,420,170,440,1],[90,600,140,640,1],[330,460,360,490,1],[270,460,330,490,1],[250,130,320,180,1],[320,440,600,480,1],[360,510,480,530,1],
  [320,110,620,440,2],[620,170,680,420,2],[680,200,740,230,2],[680,270,720,300,2],[620,130,640,170,2],[190,450,250,510,2],[200,275,265,310,2],[40,50,120,110,2],
  [265,85,400,118,8],[423,97,456,130,8],[513,97,548,130,8],[547,140,582,175,8],[208,142,240,175,8],[118,165,208,208,8],[275,198,310,232,8],[263,265,298,333,8],[570,277,604,310,8],[593,356,627,390,8],[423,435,480,480,8],[445,502,480,537,8],[220,595,252,628,8],[152,605,185,640,8],[240,345,275,378,8],[105,220,160,275,8],[105,288,140,322,8],[25,335,70,378,8],[105,445,138,480,8],[25,458,60,490,8],[160,505,195,560,8],[25,515,60,550,8],[0,118,37,150,8],[37,15,60,48,8],[250,460,285,490,8],[5,255,35,275,8],[160,368,195,400,8],
  [0,85,37,118,9],[0,175,37,208,9],[15,288,48,322,9],[82,333,116,367,9],[195,333,230,367,9],[128,400,162,435,9],[195,400,230,435,9],[60,515,93,550,9],[400,85,410,118,9],[15,425,25,458,9],[25,492,35,515,9],
  [172,208,207,243,10],[230,232,264,265,10],[162,300,196,322,10],[60,118,93,140,10],[184,424,218,446,10],[0,60,15,85,10],[70,40,82,70,10],[82,60,105,72,10],
  [265,243,298,265,3],[310,243,343,276,3],[378,232,435,276,3],[345,175,375,200,3],[480,165,525,220,3],[500,75,512,105,3],[345,277,378,310,3],[513,277,548,310,3],[445,356,480,390,3],[355,356,378,400,3],[310,400,343,435,3],[525,130,558,140,3],[525,232,548,255,3],[490,345,500,370,3],
  [355,130,388,165,4],[322,153,355,187,4],[400,108,450,140,4],[455,130,500,165,4],[333,198,367,232,4],[525,198,558,232,4],[378,220,410,232,4],[435,243,470,277,4],[548,243,582,277,4],[455,265,500,310,4],[378,288,400,345,4],[333,288,378,322,4],[423,310,468,345,4],[445,290,490,345,4],[355,322,388,356,4],[378,356,434,390,4],[322,390,355,412,4],[582,400,605,435,4],[513,424,535,458,4],[550,288,570,322,4],[225,412,252,446,4],
  [513,140,548,175,5],[548,175,616,208,5],[411,208,445,243,5],[456,198,490,232,5],[480,310,513,345,5],[502,345,536,378,5],
  [410,140,445,175,6],[378,175,411,208,6],[525,310,558,345,6],[400,400,423,435,6],[490,232,525,265,6],[536,378,570,402,6],
  [445,163,480,198,7],[298,277,332,311,7],[468,400,480,435,7]];
// c, middle, on the 3x crop
const cMidDark = [[82,395],[196,430],[14,440],[640,338],[707,282],[707,395],[775,190],[855,180],[832,237],[900,237],[912,395],[1027,395],[1083,350],[1162,282],[1173,225],[1195,76],[820,134],[945,134],[861,105],[815,55],[650,430],[865,435],[321,124]];
const cMidBlue = [[10,135],[412,140],[424,190],[470,210],[367,237],[220,282],[412,293],[538,275],[470,315],[492,340],[340,440],[320,463],[707,110],[787,110],[775,237],[697,350],[912,180],[968,180],[1038,168],[1105,180],[1230,190],[1038,225],[1095,237],[1145,230],[947,305],[912,340],[1095,293],[1230,305],[1162,350],[980,395],[1150,405],[1218,100],[1175,45],[935,90],[990,100],[1150,155],[1112,55],[832,538]];
const cMidLight = [[65,55],[120,40],[400,60],[480,75],[525,100],[620,100],[730,15],[905,65],[960,55],[1060,40],[1115,100],[1095,120],[1220,135],[620,170],[620,190],[710,180],[530,200],[60,180],[15,210],[285,190],[245,205],[335,237],[410,237],[475,240],[548,237],[75,310],[125,345],[490,280],[355,300],[225,340],[240,380],[420,360],[470,380],[400,400],[330,410],[600,345],[550,385],[558,440],[130,430],[230,465],[165,495],[115,510],[240,530],[455,535],[490,555],[935,520],[1025,515],[1128,565],[140,600],[540,610],[640,610],[185,662],[650,265],[775,340],[830,340],[855,280],[910,295],[1025,300],[980,350],[845,405],[935,430],[1025,440],[1110,440],[1240,355],[1245,530],[1060,470],[1130,395],[1243,450],[845,463],[1105,445]];
const cMidPatches = [[90,30,125,60,1],[190,30,225,90,1],[280,30,340,70,1],[420,70,455,105,1],[55,120,100,150,1],[145,165,190,195,1],[20,232,65,265,1],[120,220,155,255,1],[225,220,290,250,1],[500,220,535,265,1],[580,40,600,80,1],[630,75,665,105,1],[570,110,605,160,1],[500,140,530,175,1],[690,50,735,85,1],[770,85,800,130,1],[820,50,885,85,1],[1055,110,1090,140,1],[1240,50,1260,120,1],[145,370,180,405,1],[295,425,325,450,1],[20,425,55,460,1],[100,415,135,445,1],[600,370,635,400,2],[635,275,670,310,2],[500,290,535,320,1],[340,360,370,390,1],[780,260,830,310,1],[715,310,750,345,1],[800,415,830,445,1],[840,350,880,380,1],[930,350,965,380,1],[1050,405,1075,435,1],[1010,370,1045,395,1],[1060,250,1090,275,1],[1165,385,1195,410,1],[1215,395,1260,450,1],[870,480,905,515,1],[975,495,1010,525,1],[885,550,918,585,1],[1215,545,1260,590,1],[1140,565,1168,590,1],[590,530,625,560,1],[375,490,405,515,1],[270,520,305,545,1],[305,585,340,615,1],[225,618,260,650,1],[450,630,485,660,1],[565,630,600,660,1],[430,720,465,752,1],[645,732,680,765,1],[1000,730,1020,740,1],[820,605,838,640,1],[915,605,945,635,1],[1010,610,1045,635,1],[0,465,20,490,2],
  [725,173,760,208,4],[975,412,1008,435,5]];

const DOT = 11; // palette slot of the holes

function buildPanel(p) {
  const items = [];
  const top = r => r % 2 ? Math.floor(r / 2) * 2 + p.oddTop : r;
  const bottom = r => top(r) + (r % 2 ? p.oddH : 0.655);
  const span = list => {
    const out = [];
    let from = 0;
    list.forEach(g => { out.push([from, g[0]]); from = g[1]; });
    out.push([from, 1390]);
    return out.filter(s => s[1] > s[0]);
  };
  p.gaps.forEach((g, r) => {
    span(g.map(x => [x - 1.7, x + 1.7])).forEach(s => items.push([s[0], s[1], top(r), bottom(r), 0]));
  });
  const holes = [];
  p.slits.forEach((row, i) => {
    const runs = row.filter(Array.isArray).sort((a, b) => a[0] - b[0]);
    const y0 = bottom(i), y1 = top(i + 1);
    // small overlap so no seam shows against the rows
    span(runs).forEach(s => items.push([s[0], s[1], y0 - 0.04, y1 + 0.04, 0]));
    row.filter(e => !Array.isArray(e)).forEach(x => holes.push([x - 2, x + 2, y0, Math.min(y1, y0 + 0.23), DOT]));
  });
  p.layers.forEach(l => {
    if (l.rects) {
      l.rects.forEach(q => {
        const a = l.read(q[0], q[1]), b = l.read(q[2], q[3]);
        items.push([a[0], b[0], a[1], b[1], q[4]]);
      });
    } else {
      l.list.forEach(c => {
        const at = l.read(c[0], c[1]);
        items.push([at[0] - l.w / 2, at[0] + l.w / 2, at[1] - 0.33, at[1] + 0.33, l.level]);
      });
    }
  });
  return items.concat(holes);
}

const PITCH = 17.2;
// the 3x crops have their own origin in the page
const crop = (cx, cy, left, topY) => (x, y) => [cx + x / 3 - left, (cy + y / 3 - topY) / PITCH];

const readA1 = (x, y) => [(x - 24) * 0.459, (y - 40) / 46];
const readA2 = (x, y) => [x * 0.459 + 699, (y - 40) / 46];
const readA3 = crop(1480, 440, 701, 254);
const readB = (x, y) => [(x - 12) * 0.912, (y - 28) / 46.2];
const readB1 = crop(1400, 1270, 701, 1080);
const readB2 = crop(1000, 1270, 701, 1080);
const readC = (x, y) => [(x - 15) * 0.912, (y - 42) / 46.2];
const readC1 = crop(1450, 2090, 704, 1906);
const readC2 = crop(1050, 2090, 704, 1906);

const panels = [
  { left: 701, top: 254, width: 1390, height: 546, yMax: 31.75, oddTop: 0.93, oddH: 0.82, gaps: gapsA, slits: slitsA,
    layers: [
      { list: aLeftGreen, level: 1, w: 11, read: readA1 }, { list: aLeftBright, level: 2, w: 11, read: readA1 },
      { list: aLeftLight, level: 8, w: 11, read: readA1 }, { list: aLeftBlue, level: 9, w: 11, read: readA1 },
      { list: aRightGreen, level: 1, w: 11, read: readA2 }, { list: aRightBright, level: 2, w: 11, read: readA2 },
      { list: aRightLight, level: 8, w: 11, read: readA2 },
      { rects: aHot, read: readA3 }
    ] },
  { left: 701, top: 1080, width: 1393, height: 547, yMax: 31.75, oddTop: 0.87, oddH: 0.88, gaps: gapsB, slits: slitsB,
    layers: [
      { list: bWideGreen, level: 1, w: 8, read: readB }, { list: bWideLight, level: 8, w: 11, read: readB },
      { rects: bMidPatches, read: readB2 },
      { list: bMidBright, level: 2, w: 11, read: readB2 }, { list: bMidLight, level: 8, w: 11, read: readB2 },
      { list: bMidBlue, level: 9, w: 11, read: readB2 }, { list: bMidDark, level: 10, w: 11, read: readB2 },
      { rects: bHot, read: readB1 },
      { list: bHotLight, level: 8, w: 11, read: readB1 }, { list: bHotBlue, level: 9, w: 11, read: readB1 },
      { list: bOlive, level: 3, w: 11, read: readB1 }, { list: bAmber, level: 4, w: 11, read: readB1 }, { list: bOrange, level: 5, w: 11, read: readB1 }
    ] },
  { left: 704, top: 1906, width: 1386, height: 546, yMax: 31.75, oddTop: 0.87, oddH: 0.88, gaps: gapsC, slits: slitsC,
    layers: [
      { list: cWideGreen, level: 1, w: 8, read: readC }, { list: cWideLight, level: 8, w: 10, read: readC }, { list: cWideBlue, level: 9, w: 10, read: readC },
      { rects: cWidePatches, read: readC },
      { rects: cMidPatches, read: readC2 },
      { list: cMidLight, level: 8, w: 11, read: readC2 }, { list: cMidBlue, level: 9, w: 11, read: readC2 }, { list: cMidDark, level: 10, w: 11, read: readC2 },
      { rects: cHot, read: readC1 }
    ] }
];

function rectItem(params, api) {
  const p0 = api.coord([api.value(0), api.value(2)]);
  const p1 = api.coord([api.value(1), api.value(3)]);
  return { type: 'rect', shape: { x: p0[0], y: p0[1], width: p1[0] - p0[0], height: p1[1] - p0[1] }, style: { fill: palette[api.value(4)] } };
}

const grids = [], xAxes = [], yAxes = [], series = [];
panels.forEach((p, i) => {
  grids.push({ left: p.left, top: p.top, width: p.width, height: p.height });
  xAxes.push({ type: 'value', gridIndex: i, min: 0, max: 1390, show: false });
  yAxes.push({ type: 'value', gridIndex: i, min: 0, max: p.yMax, inverse: true, show: false });
  series.push({ type: 'custom', xAxisIndex: i, yAxisIndex: i, renderItem: rectItem, data: buildPanel(p), silent: true, animation: false, progressive: 0 });
});

// colour legend
grids.push({ left: 42, top: 346, width: 53, height: 1765 });
xAxes.push({ type: 'value', gridIndex: 3, min: 0, max: 1, show: false });
yAxes.push({
  type: 'category', gridIndex: 3, data: tickLabels, inverse: true, boundaryGap: false, position: 'right',
  axisLine: { show: false },
  axisTick: { show: true, length: 19, lineStyle: { color: '#000', width: 2.5 } },
  splitLine: { show: true, lineStyle: { color: '#000', width: 2.5 } },
  // bottom aligned with a short line box, so the text sits above its tick
  axisLabel: { show: true, interval: 0, margin: 99, align: 'left', color: '#000', fontFamily: 'Liberation Sans', fontSize: 62, textBorderColor: '#000', textBorderWidth: 1.2, verticalAlign: 'bottom', lineHeight: 38 }
});
series.push({
  type: 'custom', xAxisIndex: 3, yAxisIndex: 3, silent: true, animation: false, z: 1,
  data: bandColors.map((c, i) => [i]),
  renderItem(params, api) {
    const i = api.value(0);
    const p0 = api.coord([0, i]);
    const p1 = api.coord([1, i + 1]);
    return { type: 'rect', shape: { x: p0[0], y: p0[1], width: p1[0] - p0[0], height: p1[1] - p0[1] }, style: { fill: bandColors[i] } };
  }
});

const titles = headerLines.map((t, i) => ({
  text: t, left: 55, top: 26 + i * 57,
  textStyle: { color: '#00263f', fontFamily: 'Liberation Sans', fontWeight: 'normal', fontSize: i ? 62 : 65, lineHeight: 62, textBorderColor: '#00263f', textBorderWidth: 1 }
}));
[['(a)', 1611, 109], ['(b)', 1576, 933], ['(c)', 1555, 1746]].forEach(t => titles.push({
  text: t[0], left: t[1], top: t[2], textAlign: 'center',
  textStyle: { color: '#000', fontFamily: 'Lato', fontWeight: 'bold', fontSize: 124, lineHeight: 130 }
}));

const chart = echarts.init(document.getElementById('chart'), null, { renderer: 'canvas' });
chart.setOption({ animation: false, backgroundColor: '#fff', title: titles, grid: grids, xAxis: xAxes, yAxis: yAxes, series: series });
</script>
</body>
</html>
